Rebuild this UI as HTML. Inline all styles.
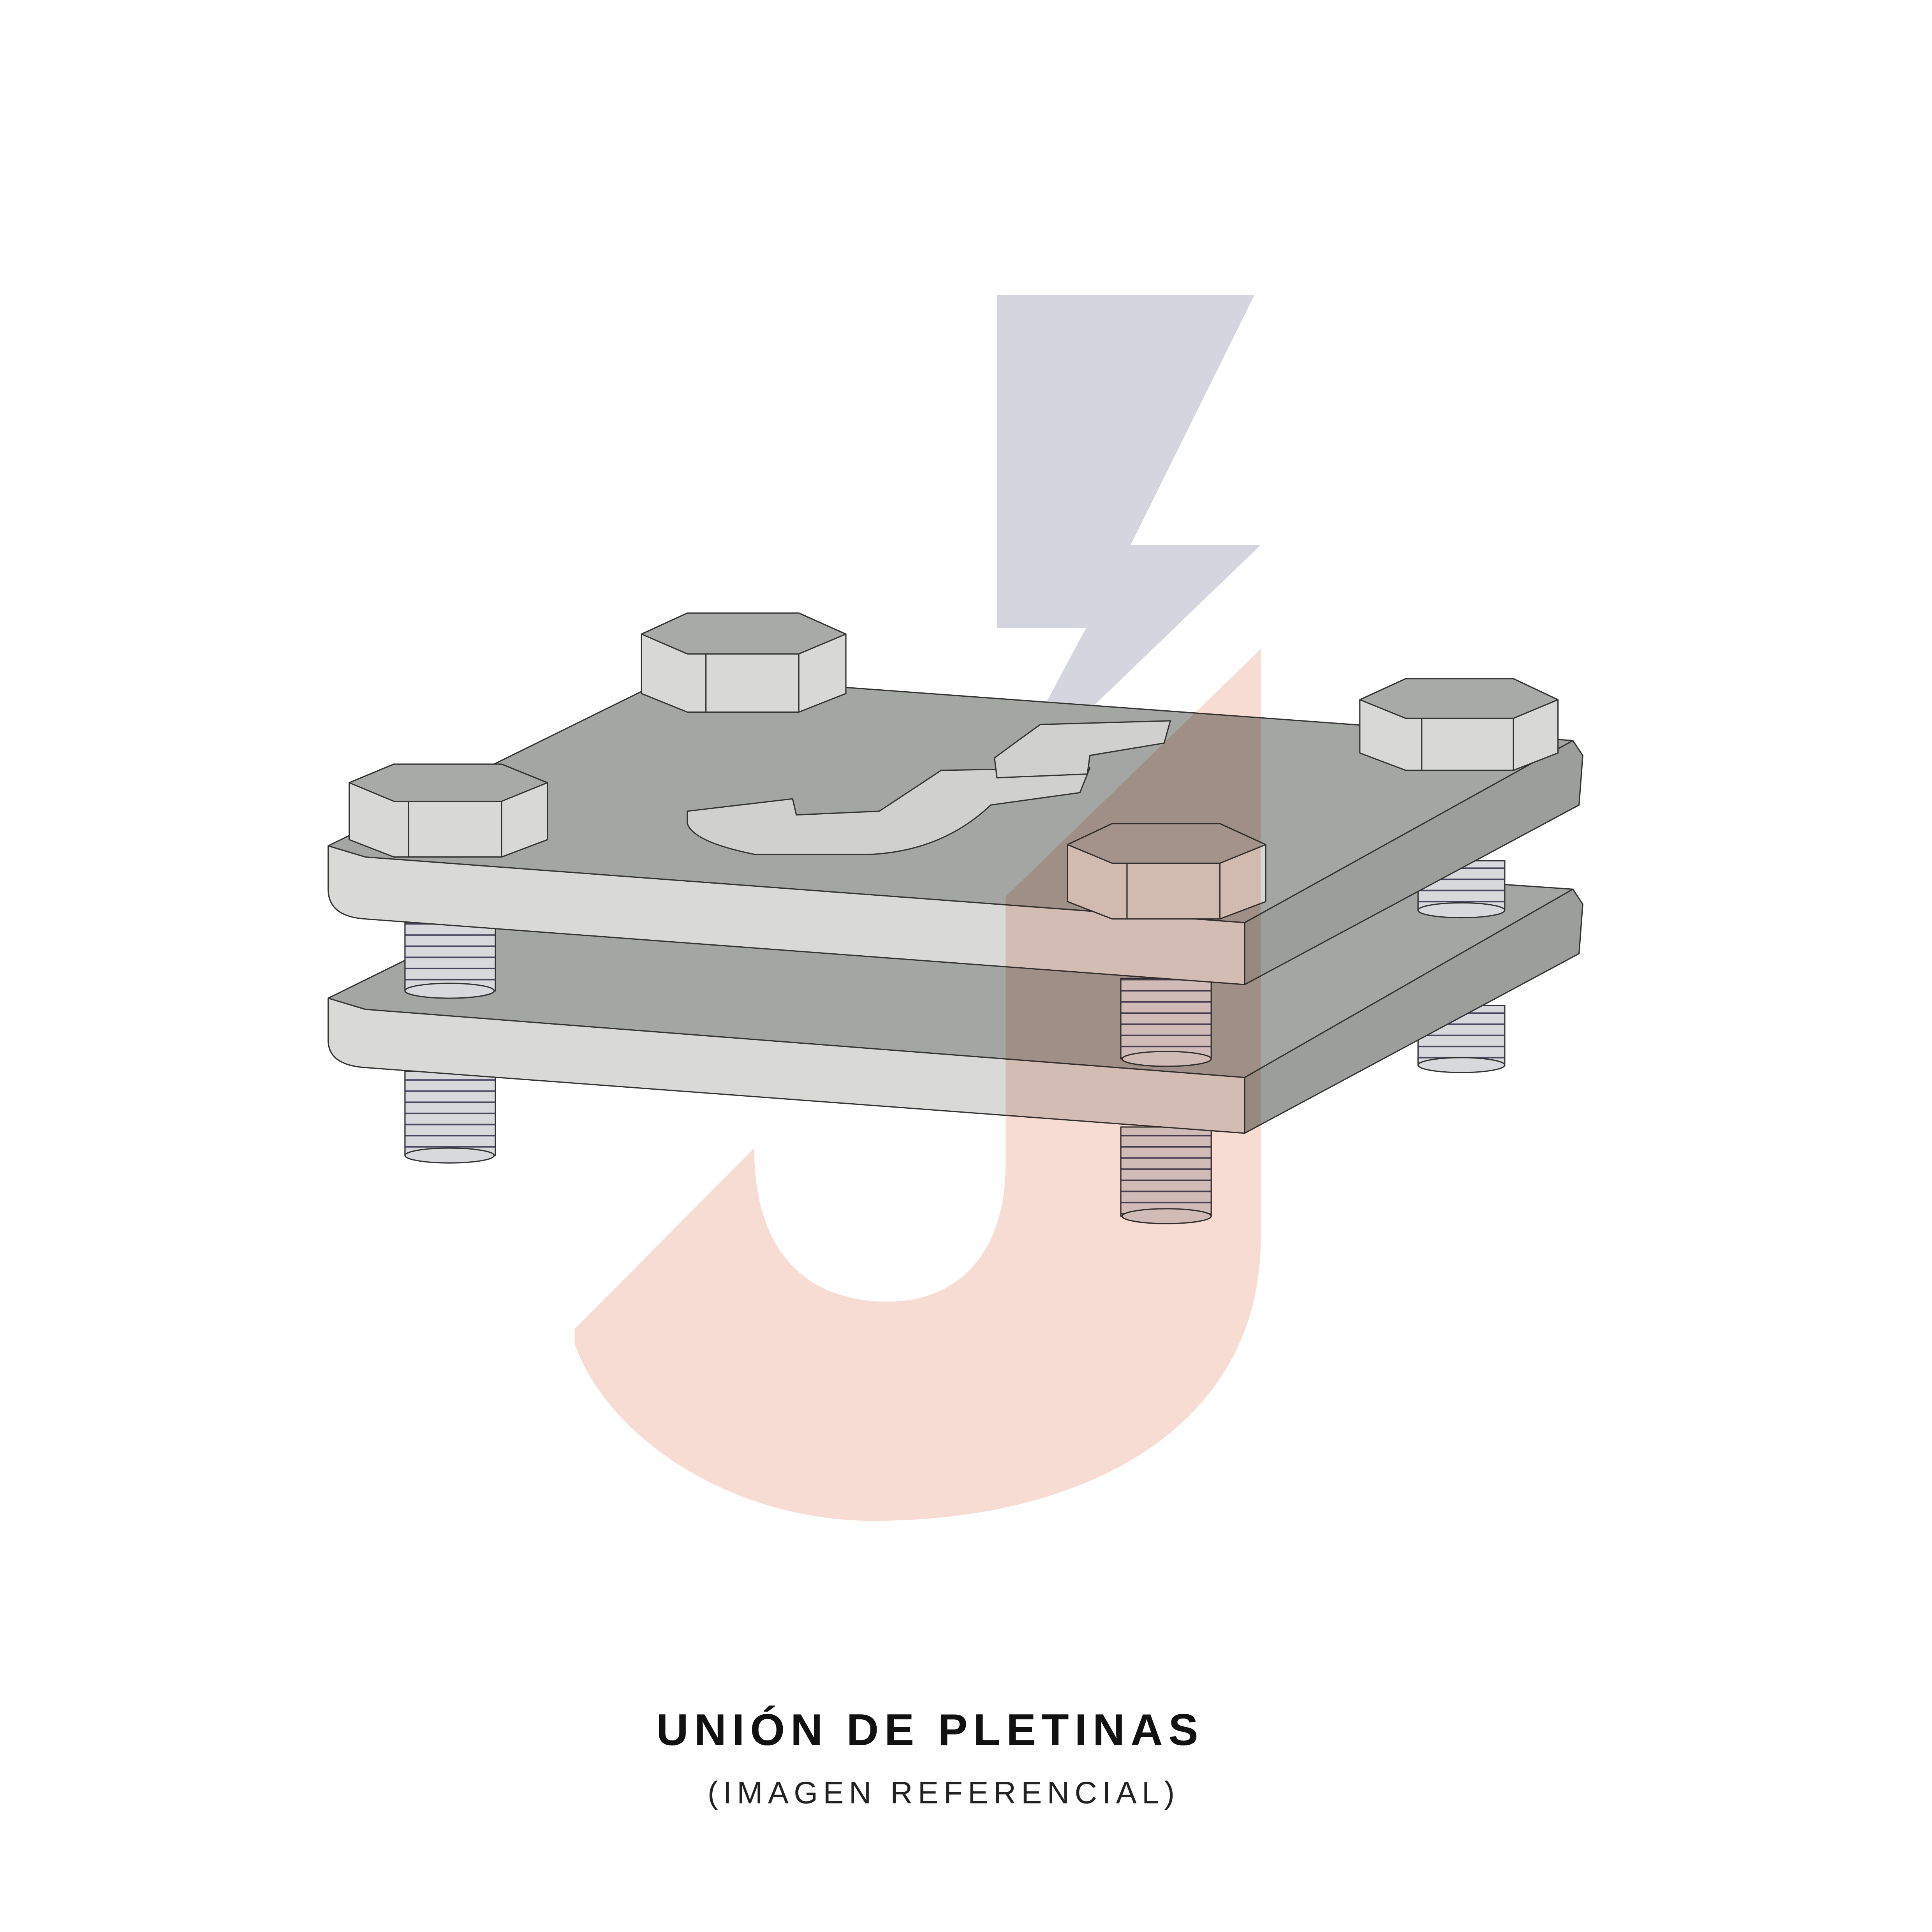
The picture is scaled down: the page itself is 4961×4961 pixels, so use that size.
<!DOCTYPE html>
<html><head><meta charset="utf-8"><style>
html,body{margin:0;padding:0;background:#fff;}
svg{display:block;}
</style></head><body>
<svg width="4961" height="4961" viewBox="0 0 1560 1560" xmlns="http://www.w3.org/2000/svg">
<defs>
<pattern id="thr" width="10" height="9" patternUnits="userSpaceOnUse">
<rect width="10" height="9" fill="#d8d9dc"/><path d="M0,8 L10,8" stroke="#4a4560" stroke-width="1.2"/>
</pattern>
</defs>
<rect width="1560" height="1560" fill="#fff"/>
<!-- grey lightning -->
<polygon points="805,238 1013,238 913,440 1018,440 801,649 877,507 805,507" fill="#d4d5de"/>
<g stroke="#333" stroke-width="1" stroke-linejoin="round">
<!-- lower studs -->
<rect x="327" y="865" width="73" height="68" fill="url(#thr)"/><ellipse cx="363" cy="933" rx="36" ry="6" fill="#d8d9dc"/>
<rect x="905" y="910" width="73" height="72" fill="url(#thr)"/><ellipse cx="942" cy="982" rx="36" ry="6" fill="#d8d9dc"/>
<rect x="1145" y="812" width="70" height="48" fill="url(#thr)"/><ellipse cx="1180" cy="860" rx="35" ry="6" fill="#d8d9dc"/>
<!-- lower plate -->
<polygon points="265,806 545,668 1270,718 1005,870 295,815" fill="#a4a6a3"/>
<path d="M265,806 L295,815 L1005,870 L1005,915 L295,862 Q265,860 265,840 Z" fill="#d9dad8"/>
<polygon points="1005,870 1270,718 1278,730 1275,770 1005,915" fill="#9c9e9b"/>
<!-- middle studs -->
<rect x="327" y="745" width="73" height="55" fill="url(#thr)"/><ellipse cx="363" cy="800" rx="36" ry="6" fill="#d8d9dc"/>
<rect x="905" y="790" width="73" height="65" fill="url(#thr)"/><ellipse cx="942" cy="855" rx="36" ry="6" fill="#d8d9dc"/>
<rect x="1145" y="695" width="70" height="40" fill="url(#thr)"/><ellipse cx="1180" cy="735" rx="35" ry="6" fill="#d8d9dc"/>
<!-- upper plate -->
<polygon points="265,683 545,545 1270,598 1005,745 295,692" fill="#a4a6a3"/>
<path d="M265,683 L295,692 L1005,745 L1005,795 L295,742 Q265,740 265,718 Z" fill="#d9dad8"/>
<polygon points="1005,745 1270,598 1278,610 1275,650 1005,795" fill="#9c9e9b"/>
<!-- J logo on plate -->
<path d="M555,655 L640,645 L643,658 L710,655 L760,622 L880,620 L872,640 L800,650 Q760,688 700,690 L610,690 Q560,680 555,665 Z" fill="#d0d1ce"/>
<polygon points="803,612 822,598 840,585 945,582 940,600 880,610 878,625 805,628" fill="#d0d1ce"/>
<!-- hex heads -->
<polygon points="518,512 555,495 645,495 683,512 683,560 645,575 555,575 518,560" fill="#d8d9d6"/>
<polygon points="518,512 555,495 645,495 683,512 645,528 555,528" fill="#a8aaa7"/>
<path d="M570,528 L570,575 M645,528 L645,575" fill="none"/>
<polygon points="282,632 318,617 405,617 442,632 442,678 405,692 318,692 282,678" fill="#d8d9d6"/>
<polygon points="282,632 318,617 405,617 442,632 405,647 318,647" fill="#a8aaa7"/>
<path d="M330,647 L330,692 M405,647 L405,692" fill="none"/>
<polygon points="1098,565 1135,548 1222,548 1258,565 1258,608 1222,622 1135,622 1098,608" fill="#d8d9d6"/>
<polygon points="1098,565 1135,548 1222,548 1258,565 1222,580 1135,580" fill="#a8aaa7"/>
<path d="M1148,580 L1148,622 M1222,580 L1222,622" fill="none"/>
<polygon points="862,682 898,665 985,665 1022,682 1022,728 985,742 898,742 862,728" fill="#d8d9d6"/>
<polygon points="862,682 898,665 985,665 1022,682 985,697 898,697" fill="#a8aaa7"/>
<path d="M910,697 L910,742 M985,697 L985,742" fill="none"/>
</g>
<!-- orange J -->
<path d="M1018,524 L1018,1000 C1018,1150 880,1228 705,1228 C590,1228 490,1160 464,1085 L464,1073 L609,927 C609,1010 650,1051 717,1051 C775,1051 812,1010 812,940 L812,724 Z" fill="#f7dcd3" style="mix-blend-mode:multiply"/>
<text x="751" y="1409" text-anchor="middle" font-family="Liberation Sans, sans-serif" font-weight="bold" font-size="36" letter-spacing="4.6" fill="#111">UNIÓN DE PLETINAS</text>
<text x="762" y="1456" text-anchor="middle" font-family="Liberation Sans, sans-serif" font-size="25" letter-spacing="4.2" fill="#222">(IMAGEN REFERENCIAL)</text>
</svg>
</body></html>
